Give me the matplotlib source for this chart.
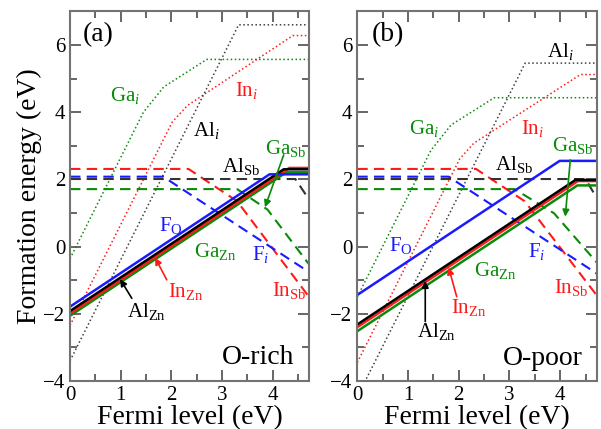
import matplotlib
matplotlib.use("Agg")
import matplotlib.pyplot as plt
from matplotlib.ticker import MultipleLocator

plt.rcParams['font.family'] = ['Liberation Serif', 'DejaVu Serif']
plt.rcParams['mathtext.fontset'] = 'custom'
plt.rcParams['mathtext.rm'] = 'Liberation Serif'
plt.rcParams['mathtext.it'] = 'Liberation Serif:italic'

GREEN = '#0a8a0a'
RED = '#ff1a1a'
BLUE = '#1a1aff'
BLACK = '#000000'

XMAX = 4.72

# ---------------- Panel (a): O-rich ----------------
# solid: substitutional on Zn / F on O
a_FO_x = [0, 3.94, XMAX];      a_FO_y = [-1.79, 2.15, 2.15]
a_AlZn_x = [0, 4.22, XMAX];    a_AlZn_y = [-1.92, 2.30, 2.30]
a_InZn_x = [0, 4.33, XMAX];    a_InZn_y = [-1.99, 2.34, 2.34]
a_GaZn_x = [0, 4.27, XMAX];    a_GaZn_y = [-2.06, 2.21, 2.21]
# dashed: on Sb site / F interstitial
a_InSb_x = [0, 2.34, 3.3, XMAX];   a_InSb_y = [2.31, 2.31, 1.35, -1.5]
a_Fi_x = [0, 1.84, XMAX];          a_Fi_y = [2.08, 2.08, -0.76]
a_AlSb_x = [0, 4.45, XMAX];        a_AlSb_y = [2.01, 2.01, 1.40]
a_GaSb_x = [0, 3.3, 3.9, XMAX];    a_GaSb_y = [1.71, 1.71, 1.10, -0.53]
# dotted: interstitials
a_Gai_x = [0, 1.45, 1.85, 2.7, XMAX]; a_Gai_y = [-0.36, 4.0, 4.75, 5.57, 5.57]
a_Ini_x = [0, 2.02, 2.32, 4.4, XMAX]; a_Ini_y = [-2.35, 3.71, 4.2, 6.28, 6.28]
a_Ali_x = [0, 3.33, XMAX];            a_Ali_y = [-3.40, 6.60, 6.60]

# ---------------- Panel (b): O-poor ----------------
b_FO_x = [0, 3.99, XMAX];      b_FO_y = [-1.44, 2.55, 2.55]
b_AlZn_x = [0, 4.30, XMAX];    b_AlZn_y = [-2.32, 1.98, 1.98]
b_InZn_x = [0, 4.35, XMAX];    b_InZn_y = [-2.40, 1.95, 1.95]
b_GaZn_x = [0, 4.34, XMAX];    b_GaZn_y = [-2.52, 1.82, 1.82]
b_InSb_x = [0, 2.34, 3.3, XMAX];   b_InSb_y = [2.31, 2.31, 1.35, -1.45]
b_Fi_x = [0, 1.80, XMAX];          b_Fi_y = [2.08, 2.08, -0.80]
b_AlSb_x = [0, 4.50, XMAX];        b_AlSb_y = [2.01, 2.01, 1.45]
b_GaSb_x = [0, 3.1, 3.88, XMAX];   b_GaSb_y = [1.71, 1.71, 0.99, -0.47]
b_Gai_x = [0, 1.45, 1.85, 2.7, XMAX]; b_Gai_y = [-1.50, 2.86, 3.62, 4.43, 4.43]
b_Ini_x = [0, 2.02, 2.30, 4.4, XMAX]; b_Ini_y = [-3.45, 2.61, 3.08, 5.12, 5.12]
b_Ali_x = [0, 3.31, XMAX];            b_Ali_y = [-4.47, 5.46, 5.46]


def setup(ax):
    ax.set_xlim(0, XMAX)
    ax.set_ylim(-4, 7)
    ax.xaxis.set_major_locator(MultipleLocator(1))
    ax.xaxis.set_minor_locator(MultipleLocator(0.5))
    ax.yaxis.set_major_locator(MultipleLocator(2))
    ax.yaxis.set_minor_locator(MultipleLocator(1))
    ax.tick_params(which='both', direction='in', top=True, right=True,
                   labelsize=15, color='0.3', width=1.2)
    ax.tick_params(which='major', length=8)
    ax.tick_params(which='minor', length=5)
    for s in ax.spines.values():
        s.set_color('0.45')
        s.set_linewidth(1.5)
    ax.set_xlabel('Fermi level (eV)', fontsize=20, labelpad=0)


def draw(ax, d):
    ax.plot(d['Gai'][0], d['Gai'][1], ':', color=GREEN, lw=1.1)
    ax.plot(d['Ini'][0], d['Ini'][1], ':', color=RED, lw=1.1)
    ax.plot(d['Ali'][0], d['Ali'][1], ':', color='0.25', lw=1.1)
    ax.plot(d['InSb'][0], d['InSb'][1], '--', color=RED, lw=1.5, dashes=(5, 3))
    ax.plot(d['Fi'][0], d['Fi'][1], '--', color=BLUE, lw=1.5, dashes=(5, 3))
    ax.plot(d['AlSb'][0], d['AlSb'][1], '--', color='0.2', lw=1.5, dashes=(5, 3))
    ax.plot(d['GaSb'][0], d['GaSb'][1], '--', color=GREEN, lw=1.5, dashes=(5, 3))
    ax.plot(d['GaZn'][0], d['GaZn'][1], '-', color=GREEN, lw=1.8)
    ax.plot(d['InZn'][0], d['InZn'][1], '-', color=RED, lw=1.8)
    ax.plot(d['AlZn'][0], d['AlZn'][1], '-', color=BLACK, lw=1.8)
    ax.plot(d['FO'][0], d['FO'][1], '-', color=BLUE, lw=1.8)


def arrow(ax, start, end, color):
    ax.annotate('', xy=end, xytext=start,
                arrowprops=dict(arrowstyle='-|>', color=color, lw=1.2,
                                mutation_scale=10, shrinkA=0, shrinkB=0))


fig = plt.figure(figsize=(6.01, 4.29), dpi=100)
axa = fig.add_axes([0.1165, 0.112, 0.3977, 0.8615])
axb = fig.add_axes([0.5945, 0.112, 0.3983, 0.8615])

da = dict(FO=(a_FO_x, a_FO_y), AlZn=(a_AlZn_x, a_AlZn_y), InZn=(a_InZn_x, a_InZn_y),
          GaZn=(a_GaZn_x, a_GaZn_y), InSb=(a_InSb_x, a_InSb_y), Fi=(a_Fi_x, a_Fi_y),
          AlSb=(a_AlSb_x, a_AlSb_y), GaSb=(a_GaSb_x, a_GaSb_y), Gai=(a_Gai_x, a_Gai_y),
          Ini=(a_Ini_x, a_Ini_y), Ali=(a_Ali_x, a_Ali_y))
db = dict(FO=(b_FO_x, b_FO_y), AlZn=(b_AlZn_x, b_AlZn_y), InZn=(b_InZn_x, b_InZn_y),
          GaZn=(b_GaZn_x, b_GaZn_y), InSb=(b_InSb_x, b_InSb_y), Fi=(b_Fi_x, b_Fi_y),
          AlSb=(b_AlSb_x, b_AlSb_y), GaSb=(b_GaSb_x, b_GaSb_y), Gai=(b_Gai_x, b_Gai_y),
          Ini=(b_Ini_x, b_Ini_y), Ali=(b_Ali_x, b_Ali_y))

for ax, d in ((axa, da), (axb, db)):
    setup(ax)
    draw(ax, d)

axa.set_ylabel('Formation energy (eV)', fontsize=20, labelpad=1)

FS = 15
# panel (a) labels
t = dict(ha='center', va='center', fontsize=FS)
axa.text(0.26, 6.3, '(a)', ha='left', va='center', fontsize=20)
axa.text(1.09, 4.5, r'Ga$_{\mathit{i}}$', color=GREEN, **t)
axa.text(3.48, 4.65, r'In$_{\mathit{i}}$', color=RED, **t)
axa.text(2.69, 3.45, r'Al$_{\mathit{i}}$', color=BLACK, **t)
axa.text(3.38, 2.37, r'Al$_{\mathrm{Sb}}$', color=BLACK, **t)
axa.text(4.25, 2.93, r'Ga$_{\mathrm{Sb}}$', color=GREEN, **t)
axa.text(2.0, 0.64, r'F$_{\mathrm{O}}$', color=BLUE, **t)
axa.text(3.77, -0.25, r'F$_{\mathit{i}}$', color=BLUE, **t)
axa.text(2.87, -0.16, r'Ga$_{\mathrm{Zn}}$', color=GREEN, **t)
axa.text(2.28, -1.35, r'In$_{\mathrm{Zn}}$', color=RED, **t)
axa.text(4.33, -1.3, r'In$_{\mathrm{Sb}}$', color=RED, **t)
axa.text(1.52, -1.92, r'Al$_{\mathrm{Zn}}$', color=BLACK, **t)
axa.text(3.72, -3.29, 'O-rich', ha='center', va='center', fontsize=20)
arrow(axa, (1.22, -1.54), (0.99, -0.97), BLACK)
arrow(axa, (1.91, -0.99), (1.68, -0.33), RED)
arrow(axa, (4.22, 2.73), (3.85, 1.17), GREEN)

# panel (b) labels
axb.text(0.28, 6.3, '(b)', ha='left', va='center', fontsize=20)
axb.text(4.0, 5.8, r'Al$_{\mathit{i}}$', color=BLACK, **t)
axb.text(1.31, 3.5, r'Ga$_{\mathit{i}}$', color=GREEN, **t)
axb.text(3.45, 3.5, r'In$_{\mathit{i}}$', color=RED, **t)
axb.text(4.25, 3.02, r'Ga$_{\mathrm{Sb}}$', color=GREEN, **t)
axb.text(3.09, 2.43, r'Al$_{\mathrm{Sb}}$', color=BLACK, **t)
axb.text(0.86, 0.02, r'F$_{\mathrm{O}}$', color=BLUE, **t)
axb.text(3.53, -0.16, r'F$_{\mathit{i}}$', color=BLUE, **t)
axb.text(2.72, -0.7, r'Ga$_{\mathrm{Zn}}$', color=GREEN, **t)
axb.text(4.22, -1.23, r'In$_{\mathrm{Sb}}$', color=RED, **t)
axb.text(2.19, -1.8, r'In$_{\mathrm{Zn}}$', color=RED, **t)
axb.text(1.57, -2.54, r'Al$_{\mathrm{Zn}}$', color=BLACK, **t)
axb.text(3.65, -3.32, 'O-poor', ha='center', va='center', fontsize=20)
arrow(axb, (1.34, -2.23), (1.34, -1.02), BLACK)
arrow(axb, (1.96, -1.49), (1.80, -0.62), RED)
arrow(axb, (4.2, 2.58), (4.1, 0.89), GREEN)

fig.savefig('out.png', dpi=100)
